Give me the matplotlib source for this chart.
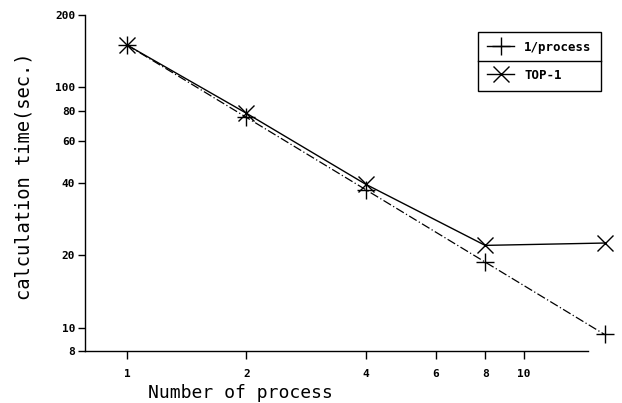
import numpy as np
import matplotlib
matplotlib.use('Agg')
import matplotlib.pyplot as plt
from matplotlib.lines import Line2D
from matplotlib.ticker import FixedLocator, NullLocator

# data
procs = [1, 2, 4, 8, 16]
t_ideal = [150, 75, 37.5, 18.75, 9.375]   # 1/process
t_top1 = [150, 78, 39.5, 22.0, 22.5]      # TOP-1

xticks = [1, 2, 4, 6, 8, 10]
yticks = [8, 10, 20, 40, 60, 80, 100, 200]

mono = 'DejaVu Sans Mono'

fig = plt.figure(figsize=(6.22, 4.03), dpi=100)
ax = fig.add_axes([0.1367, 0.129, 0.808, 0.834])

ax.plot(procs, t_ideal, color='black', lw=0.9, dashes=(7, 2, 1, 2),
        marker='+', ms=13, mew=1.0, clip_on=False, label='1/process')
ax.plot(procs, t_top1, color='black', lw=1.0, ls='-',
        marker='x', ms=11, mew=1.0, clip_on=False, label='TOP-1')

ax.set_xscale('log')
ax.set_yscale('log')
ax.set_xlim(0.784, 14.5)
ax.set_ylim(8, 200)

ax.xaxis.set_major_locator(FixedLocator(xticks))
ax.xaxis.set_minor_locator(NullLocator())
ax.yaxis.set_major_locator(FixedLocator(yticks))
ax.yaxis.set_minor_locator(NullLocator())
ax.set_xticklabels([str(v) for v in xticks])
ax.set_yticklabels([str(v) for v in yticks])

for lab in ax.get_xticklabels() + ax.get_yticklabels():
    lab.set_family(mono)
    lab.set_fontweight('bold')
    lab.set_fontsize(8)

ax.tick_params(axis='x', direction='out', length=6, width=1, pad=7)
ax.tick_params(axis='y', direction='out', length=5, width=1, pad=2)

for s in ['top', 'right']:
    ax.spines[s].set_visible(False)
for s in ['left', 'bottom']:
    ax.spines[s].set_linewidth(1.0)

ax.set_xlabel('Number of process', family=mono, fontsize=13, va='center')
ax.xaxis.set_label_coords(0.31, -0.124)
ax.set_ylabel('calculation time(sec.)', family=mono, fontsize=13.5, va='center')
ax.yaxis.set_label_coords(-0.122, 0.52)

handles = [Line2D([], [], color='black', lw=1.0, marker='+', ms=13, mew=1.0),
           Line2D([], [], color='black', lw=1.0, marker='x', ms=11, mew=1.0)]
leg = ax.legend(handles, ['1/process', 'TOP-1'], loc='upper left',
                bbox_to_anchor=(478 / 622, 1 - 32 / 403), bbox_transform=fig.transFigure,
                frameon=True, fancybox=False, edgecolor='black', framealpha=1,
                borderpad=0.7, labelspacing=1.2, handlelength=2.2, handletextpad=0.8,
                borderaxespad=0, prop={'family': mono, 'weight': 'bold', 'size': 9})
leg.get_frame().set_linewidth(1.0)

# divider between the two legend rows
fig.canvas.draw()
bb = leg.get_window_extent().transformed(fig.transFigure.inverted())
ymid = (bb.y0 + bb.y1) / 2
fig.add_artist(Line2D([bb.x0, bb.x1], [ymid, ymid], color='black', lw=1.0,
                      transform=fig.transFigure))

fig.savefig('out.png', dpi=100)
